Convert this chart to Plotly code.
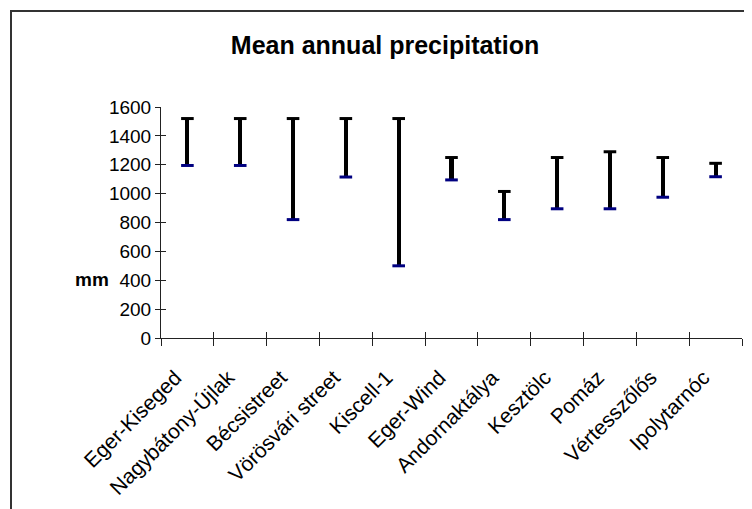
import plotly.graph_objects as go

categories = ["Eger-Kiseged", "Nagybátony-Újlak", "Bécsistreet", "Vörösvári street",
              "Kiscell-1", "Eger-Wind", "Andornaktálya", "Kesztölc", "Pomáz",
              "Vértesszőlős", "Ipolytarnóc"]
high = [1520, 1520, 1520, 1520, 1520, 1250, 1015, 1250, 1290, 1250, 1210]
low = [1195, 1195, 820, 1115, 500, 1095, 820, 895, 895, 975, 1117]
y_ticks = [0, 200, 400, 600, 800, 1000, 1200, 1400, 1600]

FONT = "Liberation Sans, Arial, sans-serif"
OFF = 8  # page body margin
W, H = 752, 509
L, T = 161 - OFF, 107 - OFF
R = W - (742 - OFF)
B = H - (338 - OFF)
pw, ph = W - L - R, H - T - B

def px_x(sx):
    return (sx - OFF - L) / pw

def px_y(sy):
    return (H - B - (sy - OFF)) / ph

fig = go.Figure()
fig.add_trace(go.Bar(x=categories, y=[h - l for h, l in zip(high, low)], base=low,
                     width=0.078, marker=dict(color="black", line=dict(width=0)),
                     showlegend=False, hoverinfo="skip"))
fig.add_trace(go.Scatter(x=categories, y=high, mode="markers", showlegend=False,
                         marker=dict(symbol="line-ew", size=9,
                                     line=dict(width=3, color="black")),
                         cliponaxis=False))
fig.add_trace(go.Scatter(x=categories, y=low, mode="markers", showlegend=False,
                         marker=dict(symbol="line-ew", size=9,
                                     line=dict(width=3, color="#000080")),
                         cliponaxis=False))
fig.add_trace(go.Scatter(x=categories, y=low, xaxis="x2", yaxis="y2", mode="markers",
                         marker=dict(opacity=0), showlegend=False, hoverinfo="skip"))

axis_col = "#222222"
fig.update_layout(
    width=W, height=H,
    margin=dict(l=L, r=R, t=T, b=B),
    paper_bgcolor="white", plot_bgcolor="white",
    font=dict(family=FONT, size=19, color="black"),
    title=dict(text="<b>Mean annual precipitation</b>", x=(385 - OFF) / W,
               xanchor="center", y=1 - (45 - OFF) / H, yanchor="middle",
               font=dict(size=25, family=FONT)),
    bargap=0,
    xaxis=dict(type="category", categoryarray=categories, categoryorder="array",
               range=[-0.5, len(categories) - 0.5], tickson="boundaries",
               ticks="outside", ticklen=7, tickwidth=1, tickcolor=axis_col,
               showline=True, linecolor=axis_col, linewidth=1, showgrid=False,
               tickangle=-45, zeroline=False, tickfont=dict(size=21),
               ticklabelstandoff=18, ticklabelshift=-12),
    yaxis=dict(range=[0, 1600], tickvals=y_ticks, ticks="outside", ticklen=5,
               tickwidth=1, tickcolor=axis_col, showline=True, linecolor=axis_col,
               linewidth=1, showgrid=False, zeroline=False, tickfont=dict(size=19)),
    xaxis2=dict(type="category", categoryarray=categories, categoryorder="array",
                range=[-0.5, len(categories) - 0.5], tickson="boundaries",
                overlaying="x", anchor="y2", ticks="inside", ticklen=6, tickwidth=1,
                tickcolor=axis_col, showticklabels=False, showline=False,
                showgrid=False, zeroline=False),
    yaxis2=dict(range=[0, 1600], tickvals=y_ticks, overlaying="y", anchor="x2",
                ticks="inside", ticklen=5, tickwidth=1, tickcolor=axis_col,
                showticklabels=False, showline=False, showgrid=False, zeroline=False),
    annotations=[dict(text="<b>mm</b>", xref="paper", yref="paper",
                      x=px_x(92), y=px_y(279), showarrow=False,
                      xanchor="center", yanchor="middle", font=dict(size=19))],
    shapes=[dict(type="rect", xref="paper", yref="paper",
                 x0=px_x(11), x1=px_x(W + 40), y0=px_y(H + 40), y1=px_y(11),
                 line=dict(color="#333333", width=2), fillcolor="rgba(0,0,0,0)",
                 layer="below")],
)

fig.write_html("out.html")
